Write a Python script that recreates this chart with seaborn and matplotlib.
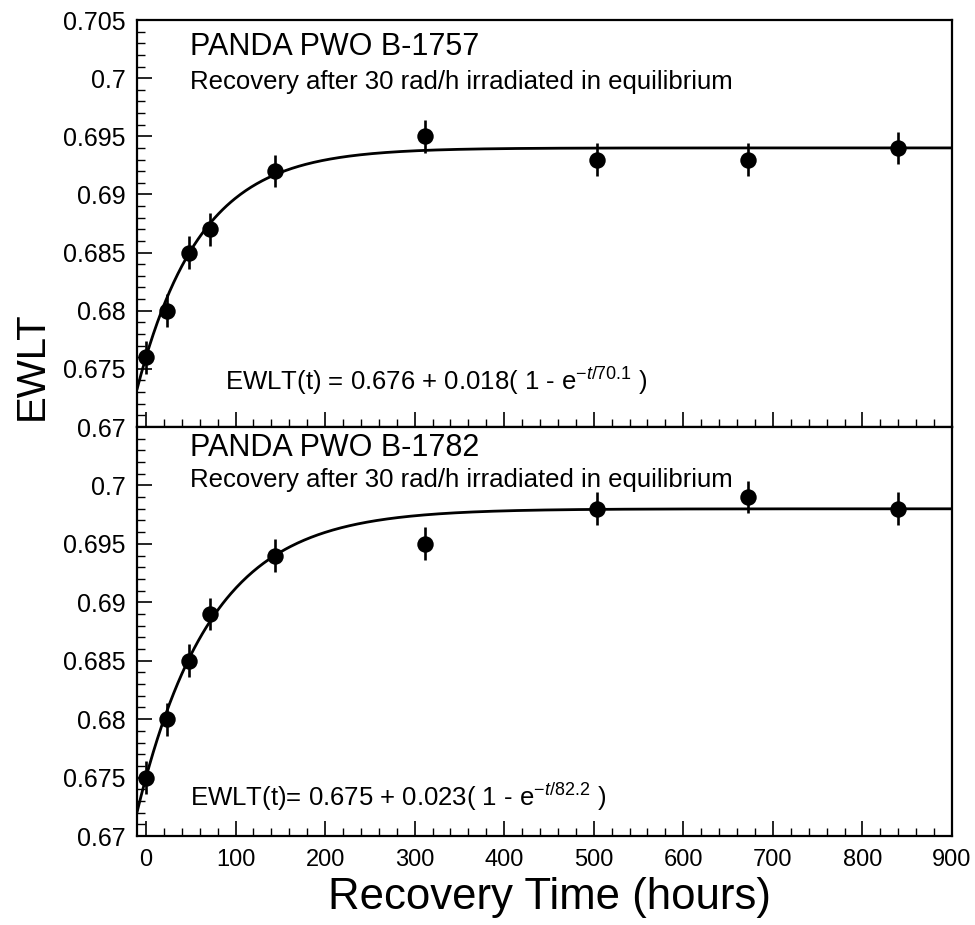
import numpy as np
import pandas as pd
import matplotlib
matplotlib.use("Agg")
import matplotlib.pyplot as plt
from matplotlib.ticker import MultipleLocator, FixedFormatter, FixedLocator
import seaborn as sns

# Recovery measurements (hours after irradiation) and EWLT values
hours = [0, 24, 48, 72, 144, 312, 504, 672, 840]
ewlt_b1757 = [0.676, 0.680, 0.685, 0.687, 0.692, 0.695, 0.693, 0.693, 0.694]
ewlt_b1782 = [0.675, 0.680, 0.685, 0.689, 0.694, 0.695, 0.698, 0.699, 0.698]
ewlt_err = 0.0014

# Exponential recovery fit parameters: a + b (1 - exp(-t/tau))
fit_b1757 = (0.676, 0.018, 70.1)
fit_b1782 = (0.675, 0.023, 82.2)

crystals = ["PANDA PWO B-1757", "PANDA PWO B-1782"]
subtitle = "Recovery after 30 rad/h irradiated in equilibrium"
x_ticks = [0, 100, 200, 300, 400, 500, 600, 700, 800, 900]
y_ticks = [0.67, 0.675, 0.68, 0.685, 0.69, 0.695, 0.7, 0.705]
y_tick_labels = ["0.67", "0.675", "0.68", "0.685", "0.69", "0.695", "0.7", "0.705"]

sns.set_theme(style="white")
plt.rcParams["font.family"] = ["Liberation Sans", "DejaVu Sans"]
plt.rcParams["mathtext.fontset"] = "custom"
plt.rcParams["mathtext.rm"] = "Liberation Sans"
plt.rcParams["mathtext.it"] = "Liberation Sans:italic"
plt.rcParams["mathtext.default"] = "it"

W, H = 975, 925
fig = plt.figure(figsize=(W / 100, H / 100), dpi=100)
fig.patch.set_facecolor("white")

left, right = 137 / W, 952 / W
ax_top = fig.add_axes([left, 1 - 427 / H, right - left, (427 - 20) / H])
ax_bot = fig.add_axes([left, 1 - 836 / H, right - left, (836 - 427) / H], sharex=ax_top)

panels = [
    (ax_top, ewlt_b1757, fit_b1757, crystals[0],
     r"EWLT(t) = 0.676 + 0.018( 1 - e$^{-t/70.1}$ )", 225, True),
    (ax_bot, ewlt_b1782, fit_b1782, crystals[1],
     r"EWLT(t)= 0.675 + 0.023( 1 - e$^{-t/82.2}$ )", 190, False),
]

t_grid = np.linspace(-10, 900, 600)

for ax, vals, (a, b, tau), name, eq, eq_x, is_top in panels:
    ax.set_facecolor("white")
    df = pd.DataFrame({"t": hours, "ewlt": vals})
    curve = pd.DataFrame({"t": t_grid, "fit": a + b * (1 - np.exp(-t_grid / tau))})
    sns.lineplot(data=curve, x="t", y="fit", ax=ax, color="black", lw=2.0,
                 estimator=None, sort=False, zorder=2)
    ax.errorbar(df["t"], df["ewlt"], yerr=ewlt_err, fmt="none", ecolor="black",
                elinewidth=1.9, capsize=0, zorder=3)
    sns.scatterplot(data=df, x="t", y="ewlt", ax=ax, color="black", s=140,
                    edgecolor="black", linewidth=0, zorder=4)

    ax.set_xlim(-10, 900)
    ax.set_ylim(0.67, 0.705)
    ax.set_xlabel("")
    ax.set_ylabel("")

    for side in ["left", "right", "top", "bottom"]:
        ax.spines[side].set_visible(True)
        ax.spines[side].set_color("black")
        ax.spines[side].set_linewidth(1.6)

    ax.xaxis.set_major_locator(FixedLocator(x_ticks))
    ax.xaxis.set_minor_locator(MultipleLocator(20))
    ax.yaxis.set_major_locator(FixedLocator(y_ticks))
    ax.yaxis.set_major_formatter(FixedFormatter(y_tick_labels))
    ax.yaxis.set_minor_locator(MultipleLocator(0.001))
    ax.tick_params(axis="both", which="both", direction="in", color="black",
                   left=True, bottom=True, right=False, top=False)
    ax.tick_params(axis="both", which="major", length=11, width=1.2)
    ax.tick_params(axis="both", which="minor", length=5.5, width=1.0)
    ax.tick_params(axis="y", which="major", labelsize=18, pad=8, labelcolor="black")
    ax.tick_params(axis="x", which="major", labelsize=17, pad=9, labelcolor="black")

    ax.text((190 - 137) / 815, 0.914 if is_top else 0.929, name,
            transform=ax.transAxes, fontsize=22, color="black", va="baseline")
    ax.text((190 - 137) / 815, 0.830 if is_top else 0.853, subtitle,
            transform=ax.transAxes, fontsize=18.5, color="black", va="baseline")
    ax.text((eq_x - 137) / 815, 0.091 if is_top else 0.073, eq,
            transform=ax.transAxes, fontsize=18.5, color="black", va="baseline")

ax_top.tick_params(axis="x", labelbottom=False)
# hide the top label of the lower panel, which would collide with the upper panel
ax_bot.yaxis.set_major_formatter(FixedFormatter(y_tick_labels[:-1] + [""]))

fig.text(32 / W, 1 - 366 / H, "EWLT", rotation=90, fontsize=29,
         ha="center", va="center", color="black")
fig.text(550 / W, 1 - 897 / H, "Recovery Time (hours)", fontsize=31.5,
         ha="center", va="center", color="black")

fig.savefig("out.png", dpi=100, facecolor="white")
